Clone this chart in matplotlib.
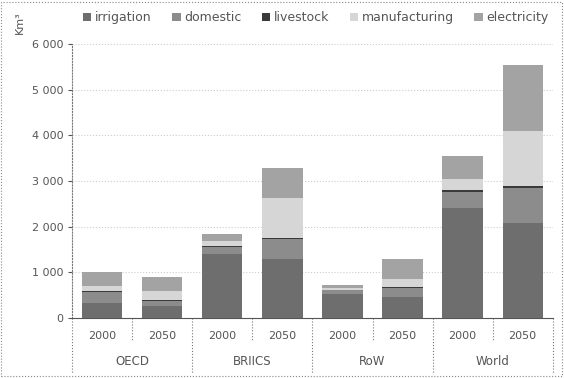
import numpy as np
import matplotlib.pyplot as plt

groups = ["OECD", "BRIICS", "RoW", "World"]
years = ["2000", "2050"] * 4
sectors = ["irrigation", "domestic", "livestock", "manufacturing", "electricity"]
colors = ["#6e6e6e", "#8c8c8c", "#3a3a3a", "#d6d6d6", "#a3a3a3"]

# km3, bars in order OECD 2000, OECD 2050, BRIICS 2000, ...
irrigation = [330, 250, 1400, 1300, 520, 450, 2400, 2070]
domestic = [230, 120, 150, 420, 80, 200, 350, 770]
livestock = [30, 20, 30, 40, 20, 30, 50, 50]
manufacturing = [100, 200, 100, 870, 40, 180, 250, 1200]
electricity = [320, 300, 150, 650, 70, 430, 500, 1450]
values = [irrigation, domestic, livestock, manufacturing, electricity]

fig = plt.figure(figsize=(5.64, 3.78), dpi=100)
ax = fig.add_axes([0.128, 0.159, 0.852, 0.725])

x = np.arange(len(years))
bottom = np.zeros(len(years))
for name, vals, c in zip(sectors, values, colors):
    ax.bar(x, vals, 0.67, bottom=bottom, color=c, label=name, zorder=3)
    bottom += np.array(vals)

ax.set_xlim(-0.5, 7.5)
ax.set_ylim(0, 6000)
ax.set_yticks(range(0, 6001, 1000))
ax.set_yticklabels(["0", "1 000", "2 000", "3 000", "4 000", "5 000", "6 000"])
ax.tick_params(axis="y", labelsize=8, colors="#555", length=3)
ax.set_xticks([])
ax.yaxis.grid(True, color="#cccccc", linestyle=":", linewidth=0.8, zorder=0)
for s in ["top", "right"]:
    ax.spines[s].set_visible(False)
ax.spines["left"].set_linestyle(":")
ax.spines["left"].set_color("#777")
ax.spines["bottom"].set_color("#555")

# two-row category axis
tr = ax.get_xaxis_transform()
for i, yr in enumerate(years):
    ax.text(i, -0.065, yr, transform=tr, ha="center", va="center", fontsize=8, color="#555")
for g, name in enumerate(groups):
    ax.text(2 * g + 0.5, -0.16, name, transform=tr, ha="center", va="center", fontsize=8.5, color="#555")
for b in [0.5, 2.5, 4.5, 6.5]:
    ax.plot([b, b], [0, -0.08], transform=tr, color="#777", lw=0.8, ls=":", clip_on=False)
for b in [-0.5, 1.5, 3.5, 5.5, 7.5]:
    ax.plot([b, b], [0, -0.2], transform=tr, color="#777", lw=0.8, ls=":", clip_on=False)

fig.text(0.035, 0.97, "Km³", rotation=90, ha="center", va="top", fontsize=8, color="#555")
fig.legend(loc="upper center", bbox_to_anchor=(0.56, 1.0), ncol=5, frameon=False,
           fontsize=9, handlelength=0.7, handleheight=0.7, handletextpad=0.3,
           columnspacing=1.6, labelcolor="#555")

# dotted frame round the whole chart
fig.patches.append(plt.Rectangle((0.002, 0.004), 0.995, 0.992, transform=fig.transFigure,
                                 fill=False, ec="#888", lw=0.8, ls=":"))

plt.savefig("out.png", dpi=100)
